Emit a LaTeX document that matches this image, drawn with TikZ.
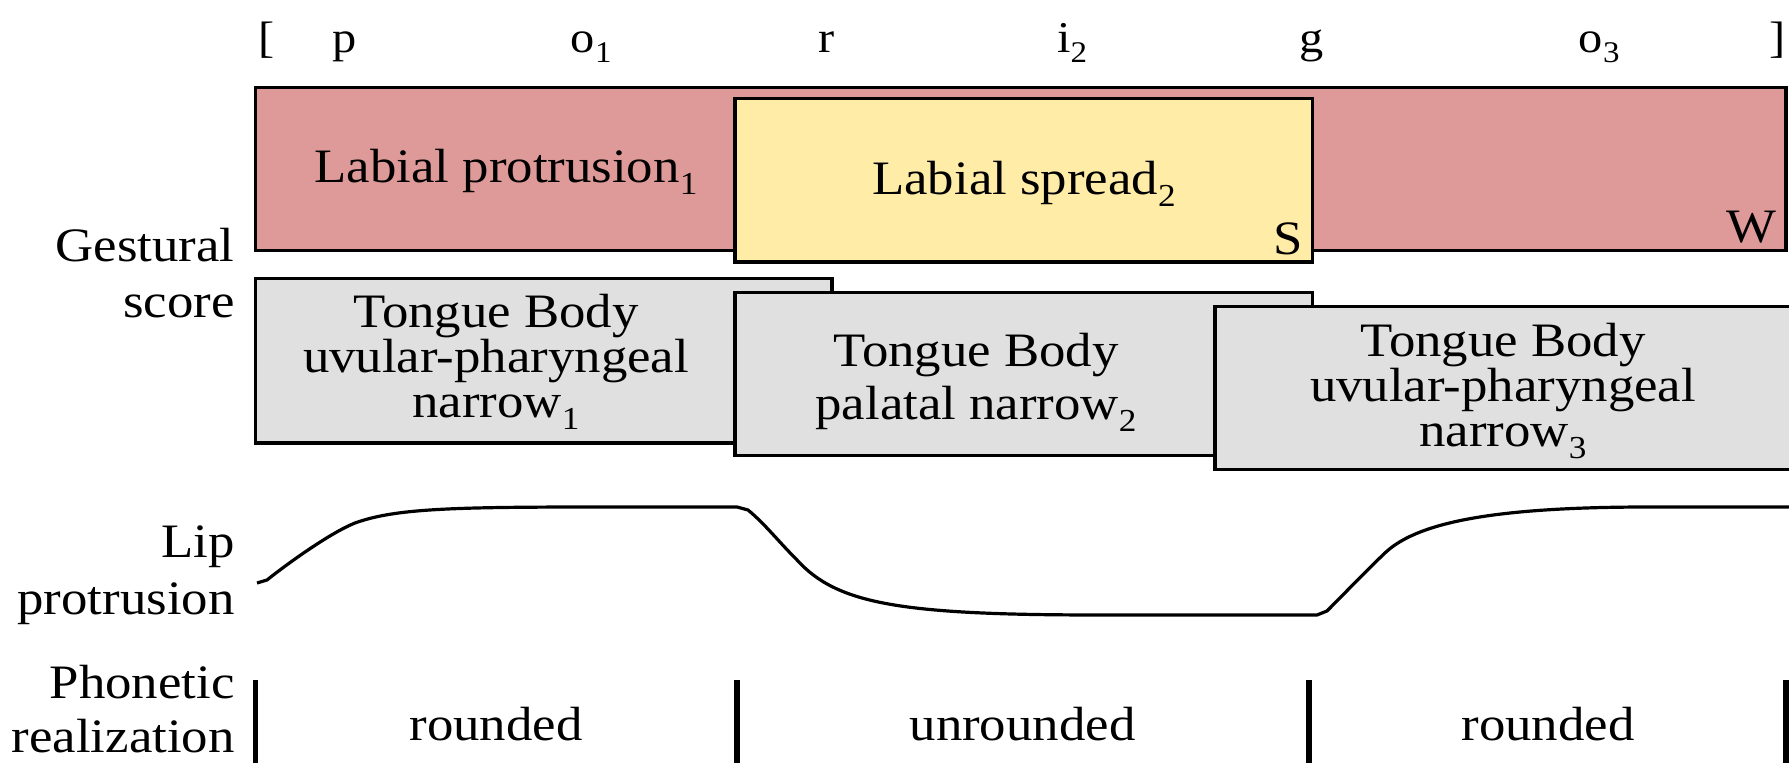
\documentclass[tikz,border=0pt]{standalone}
\usepackage{fontspec}
\setmainfont{Liberation Serif}[FakeStretch=1.1]
\usetikzlibrary{fit}
\newcommand{\sbs}[1]{\raisebox{-6pt}{\fontsize{16}{16}\selectfont #1}}
\newcommand{\tsbs}[1]{\rlap{\raisebox{-5pt}{\fontsize{15}{15}\selectfont #1}}}
\definecolor{redfill}{RGB}{221,154,152}
\definecolor{yelfill}{RGB}{255,236,166}
\definecolor{greyfill}{RGB}{224,224,224}
\begin{document}
\begin{tikzpicture}[x=0.5pt,y=-0.5pt,
  gbox/.style={draw=black,line width=1.75pt,inner sep=0pt,rectangle},
  txt/.style={font=\fontsize{24}{24}\selectfont,inner sep=0pt,anchor=base},
  lbl/.style={font=\fontsize{24}{24}\selectfont,inner sep=0pt,anchor=base east},
  seg/.style={font=\fontsize{22}{22}\selectfont,inner sep=0pt,anchor=base},
  bar/.style={line width=2.6pt},
  curve/.style={line width=1.6pt,line join=round}]
\useasboundingbox (0,0) rectangle (1789,763);
\clip (0,0) rectangle (1789,763);

% top segment row
\node[seg] (sL) at (267,53) {[};
\node[seg] (sp) at (345,53) {p};
\node[seg] (so1) at (583,53) {o\tsbs{1}};
\node[seg] (sr) at (827,53) {r};
\node[seg] (si2) at (1064,53) {i\tsbs{2}};
\node[seg] (sg) at (1312,53) {g};
\node[seg] (so3) at (1591,53) {o\tsbs{3}};
\node[seg] (sR) at (1778,53) {]};

% lip gestures
\node[gbox,fill=redfill,fit={(255.5,87.5) (1786,250.5)}] (lp) {};
\node[gbox,fill=yelfill,fit={(735,98.5) (1312.5,262)}] (ls) {};
\node[txt] (lpt) at (506,183) {Labial protrusion\sbs{1}};
\node[txt] (lst) at (1024,195) {Labial spread\sbs{2}};
\node[txt,anchor=base east] (sS) at (1303,255) {S};
\node[txt,anchor=base east] (sW) at (1777,243) {W};

% tongue body gestures
\node[gbox,fill=greyfill,fit={(255.5,278.5) (832,443)}] (tb1) {};
\node[gbox,fill=greyfill,fit={(735,292.5) (1312.5,455.5)}] (tb2) {};
\node[gbox,fill=greyfill,fit={(1215,306.5) (1830,469.5)}] (tb3) {};
\node[txt] (tb1a) at (496,328) {Tongue Body};
\node[txt] (tb1b) at (496,373) {uvular-pharyngeal};
\node[txt] (tb1c) at (496,418) {narrow\sbs{1}};
\node[txt] (tb2a) at (976,366.7) {Tongue Body};
\node[txt] (tb2b) at (976,420) {palatal narrow\sbs{2}};
\node[txt] (tb3a) at (1503,356.7) {Tongue Body};
\node[txt] (tb3b) at (1503,401.7) {uvular-pharyngeal};
\node[txt] (tb3c) at (1503,446.7) {narrow\sbs{3}};

% row labels
\node[lbl] (gs1) at (235,262) {Gestural};
\node[lbl] (gs2) at (235,318) {score};
\node[lbl] (lp1) at (235,558) {Lip};
\node[lbl] (lp2) at (235,615) {protrusion};
\node[lbl] (ph1) at (235,699) {Phonetic};
\node[lbl] (ph2) at (235,753) {realization};

% lip protrusion trajectory
\draw[curve] (257,583) -- (267,580)
  .. controls (287,564) and (330,533) .. (355,523)
  .. controls (395,508.6) and (450,507) .. (600,507)
  -- (737,507) -- (748,510)
  .. controls (765,524) and (778,541) .. (797,560)
  .. controls (837,604) and (900,615) .. (1100,615)
  -- (1317,615) -- (1327,611)
  .. controls (1342,596) and (1368,569) .. (1386,552)
  .. controls (1420,521) and (1500,507) .. (1650,507)
  -- (1800,507);

% phonetic realization
\coordinate (b1t) at (255.5,680); \coordinate (b1b) at (255.5,770);
\coordinate (b2t) at (737,680); \coordinate (b2b) at (737,770);
\coordinate (b3t) at (1309,680); \coordinate (b3b) at (1309,770);
\coordinate (b4t) at (1786,680); \coordinate (b4b) at (1786,770);
\draw[bar] (b1t) -- (b1b);
\draw[bar] (b2t) -- (b2b);
\draw[bar] (b3t) -- (b3b);
\draw[bar] (b4t) -- (b4b);
\node[txt] (r1) at (496,741) {rounded};
\node[txt] (r2) at (1022.5,741) {unrounded};
\node[txt] (r3) at (1548,741) {rounded};
\end{tikzpicture}
\end{document}
